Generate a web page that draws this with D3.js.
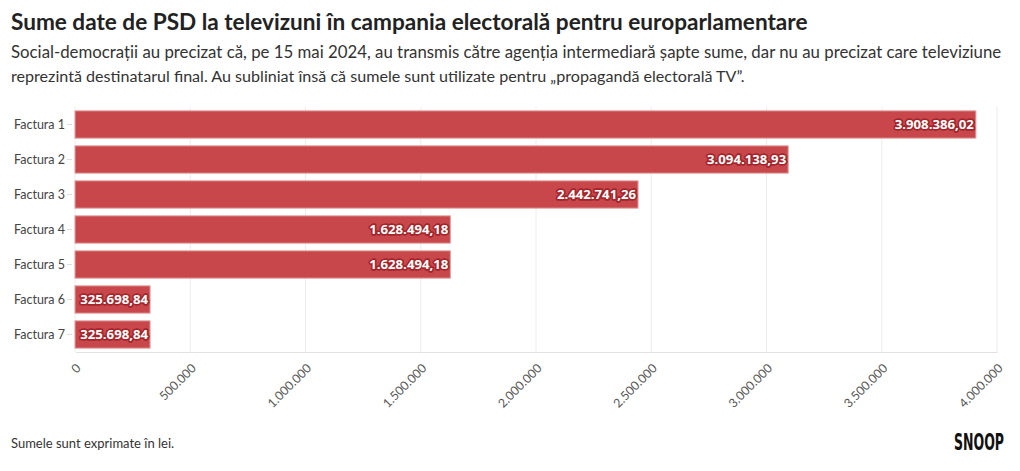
<!DOCTYPE html>
<html><head><meta charset="utf-8">
<script src="https://cdn.jsdelivr.net/npm/d3@7"></script>
<style>
body{margin:0;background:#fff;}
svg{display:block;font-family:Lato,"Open Sans",sans-serif;}
</style></head>
<body><svg id="c" width="1020" height="471"></svg>
<script>
const categories = ["Factura 1","Factura 2","Factura 3","Factura 4","Factura 5","Factura 6","Factura 7"];
const values = [3908386.02, 3094138.93, 2442741.26, 1628494.18, 1628494.18, 325698.84, 325698.84];
const ticks = [0, 500000, 1000000, 1500000, 2000000, 2500000, 3000000, 3500000, 4000000];
const title = "Sume date de PSD la televizuni în campania electorală pentru europarlamentare";
const subtitle = ["Social-democrații au precizat că, pe 15 mai 2024, au transmis către agenția intermediară șapte sume, dar nu au precizat care televiziune",
 "reprezintă destinatarul final. Au subliniat însă că sumele sunt utilizate pentru „propagandă electorală TV”."];
const note = "Sumele sunt exprimate în lei.";

const ro = d3.formatLocale({decimal:",", thousands:".", grouping:[3], currency:["","lei"]});
const fmtTick = ro.format(",.0f");
const fmtVal = ro.format(",.2f");

const svg = d3.select("#c");
const m = {left:75, right:997, top:107, bottom:352};
const x = d3.scaleLinear().domain([0,4000000]).range([m.left,m.right]);
const y = d3.scaleBand().domain(categories).range([m.top,m.bottom]).paddingInner(0.22).paddingOuter(0.11);

function fitWidth(sel, w){
  const cur = sel.node().getComputedTextLength();
  const fs = +sel.attr("font-size");
  sel.attr("font-size", (fs*w/cur).toFixed(2));
}

// title
const t = svg.append("text").attr("x",11).attr("y",30).attr("font-size",21).attr("font-weight",700).attr("fill","#222").text(title);
fitWidth(t, 797);
subtitle.forEach((s,i)=>{
  const st = svg.append("text").attr("x",11).attr("y",58+i*24).attr("font-size",15).attr("fill","#333").text(s);
  fitWidth(st, i===0?991:734);
});

// grid
svg.append("g").selectAll("line").data(ticks).join("line")
  .attr("x1",d=>x(d)).attr("x2",d=>x(d)).attr("y1",m.top).attr("y2",m.bottom)
  .attr("stroke","#ececec").attr("stroke-width",1);

// x axis
const xa = svg.append("g").attr("transform",`translate(0,${m.bottom})`)
  .call(d3.axisBottom(x).tickValues(ticks).tickFormat(fmtTick).tickSize(0));
xa.select(".domain").attr("stroke","#e2e2e2");
xa.selectAll("text").attr("font-family","Lato,sans-serif").attr("font-size",12.3).attr("fill","#555")
  .attr("text-anchor","end").attr("x",0).attr("y",0).attr("dy","0.35em")
  .attr("transform","translate(3,14) rotate(-45)");

// y axis
const ya = svg.append("g").attr("transform",`translate(${m.left},0)`)
  .call(d3.axisLeft(y).tickSize(5).tickPadding(5));
ya.select(".domain").remove();
ya.selectAll(".tick line").attr("stroke","#ddd").attr("transform","translate(-3,0)");
ya.selectAll("text").attr("font-family","Lato,sans-serif").attr("font-size",12.5).attr("fill","#444");

// bars
svg.append("g").selectAll("rect").data(values).join("rect")
  .attr("x",x(0)).attr("y",(d,i)=>y(categories[i]))
  .attr("width",d=>x(d)-x(0)).attr("height",y.bandwidth())
  .attr("fill","#c8474a").attr("stroke","#e3a0a1").attr("stroke-width",1);

// labels
const lg = svg.append("g").attr("font-family","'Open Sans',sans-serif").attr("font-weight",700).attr("font-size",13.2);
lg.selectAll("text.h").data(values).join("text").attr("class","h")
  .attr("x",d=>x(d)-2).attr("y",(d,i)=>y(categories[i])+y.bandwidth()/2).attr("dy","0.36em")
  .attr("text-anchor","end").attr("fill","#a5242a").attr("stroke","#a5242a").attr("stroke-width",3.4).attr("stroke-linejoin","round")
  .text(fmtVal);
lg.selectAll("text.f").data(values).join("text").attr("class","f")
  .attr("x",d=>x(d)-2).attr("y",(d,i)=>y(categories[i])+y.bandwidth()/2).attr("dy","0.36em")
  .attr("text-anchor","end").attr("fill","#fff")
  .text(fmtVal);

// footer
svg.append("text").attr("x",11).attr("y",448).attr("font-size",13).attr("fill","#333").text(note);
const logo = svg.append("text").attr("x",0).attr("y",0).attr("font-family","'DejaVu Sans Condensed','DejaVu Sans',sans-serif")
  .attr("font-weight",700).attr("font-size",23).attr("fill","#111").text("SNOOP");
const lw = logo.node().getComputedTextLength();
logo.attr("transform",`translate(954,450) scale(${(50/lw).toFixed(3)},1)`);
</script></body></html>
